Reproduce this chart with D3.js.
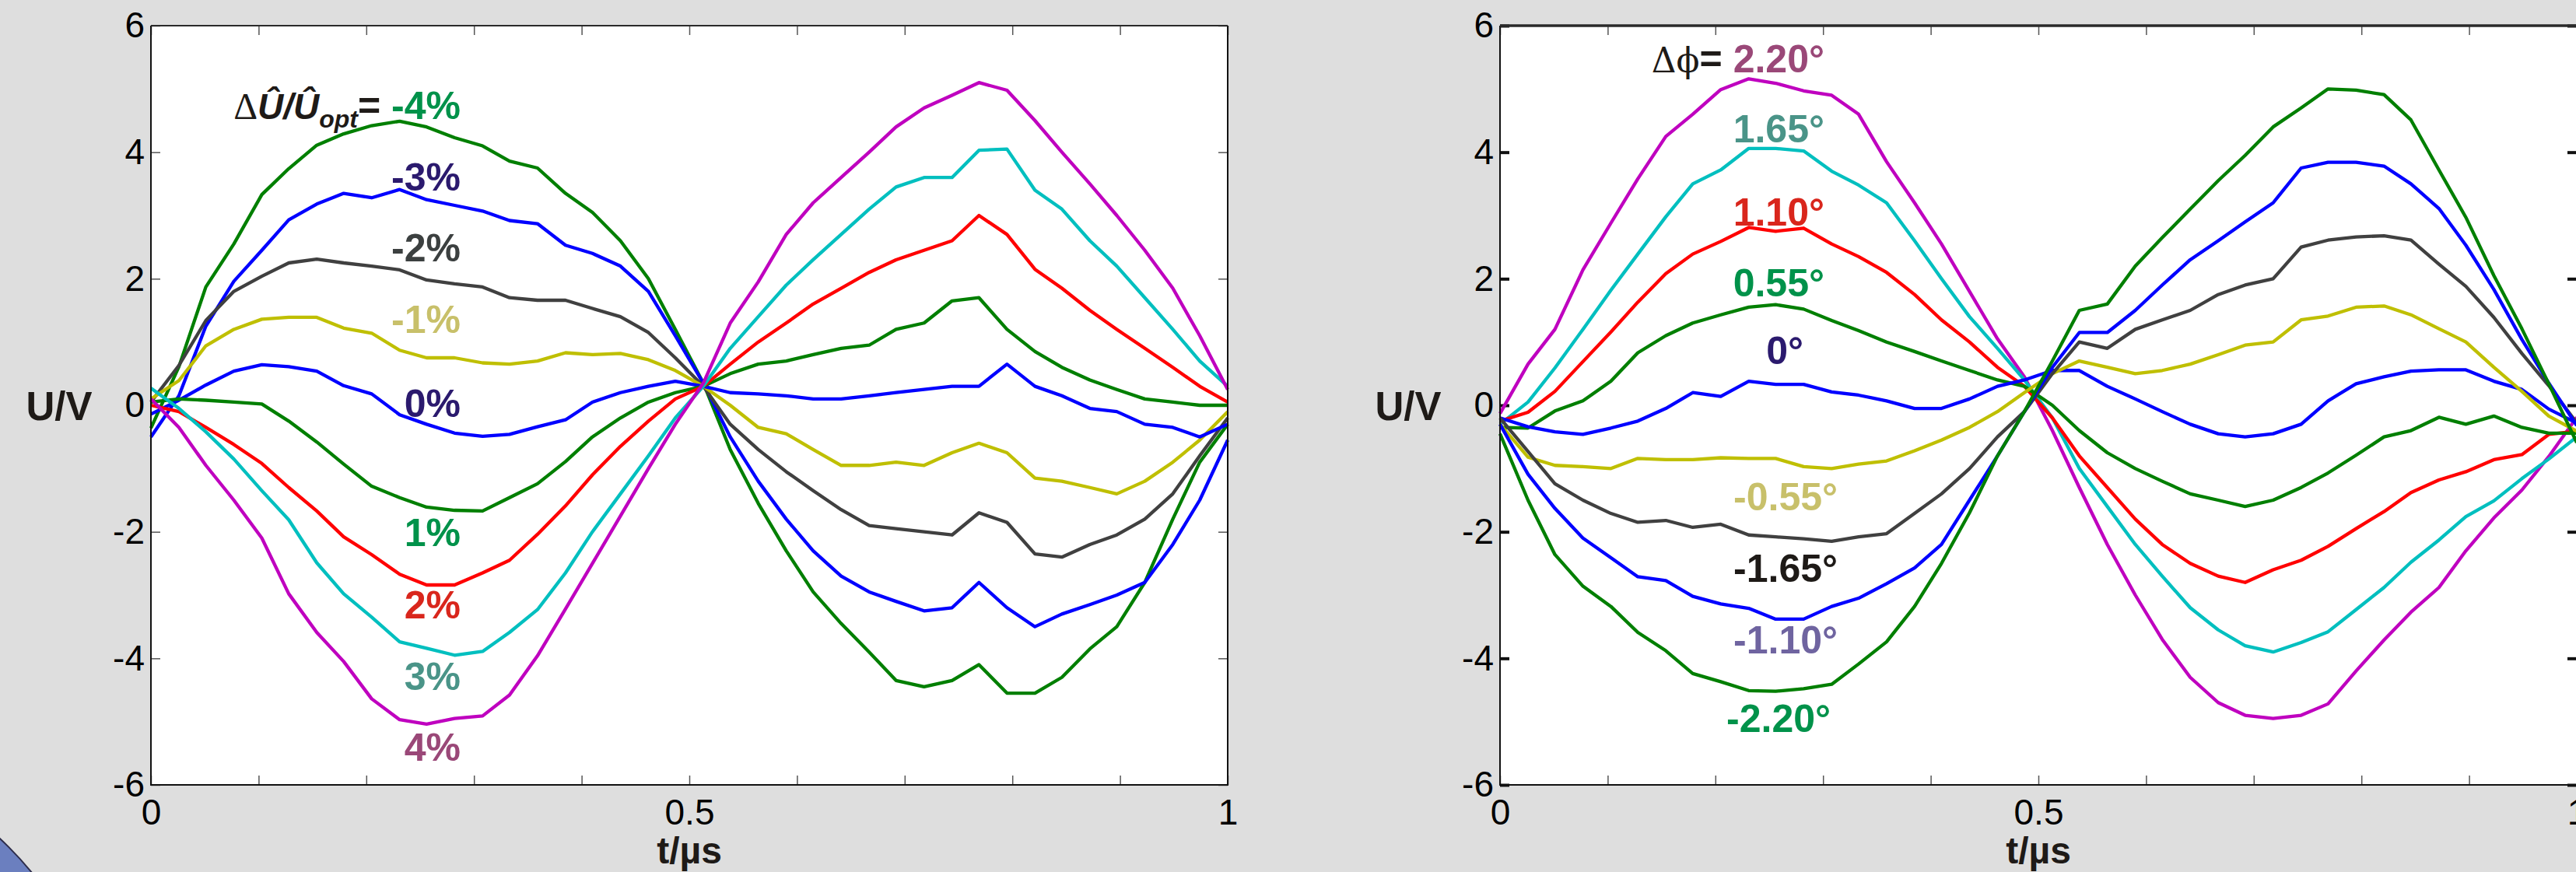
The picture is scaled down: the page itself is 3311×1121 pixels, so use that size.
<!DOCTYPE html>
<html>
<head>
<meta charset="utf-8">
<script src="https://cdn.jsdelivr.net/npm/d3@7/dist/d3.min.js"></script>
<style>
  html, body { margin: 0; padding: 0; background: #dedede; }
  svg { display: block; }
  text { font-family: "Liberation Sans", Arial, sans-serif; }
</style>
</head>
<body>
<script>
// sample instants (t / µs), 40 samples per curve
var tSamples = [0.000, 0.026, 0.051, 0.077, 0.103, 0.128, 0.154, 0.179, 0.205, 0.231,
                0.256, 0.282, 0.308, 0.333, 0.359, 0.385, 0.410, 0.436, 0.462, 0.487,
                0.513, 0.538, 0.564, 0.590, 0.615, 0.641, 0.667, 0.692, 0.718, 0.744,
                0.769, 0.795, 0.821, 0.846, 0.872, 0.897, 0.923, 0.949, 0.974, 1.000];

var yTicks = [-6, -4, -2, 0, 2, 4, 6];
var yTickLabels = ["-6", "-4", "-2", "0", "2", "4", "6"];
var xTicks = [0, 0.1, 0.2, 0.3, 0.4, 0.5, 0.6, 0.7, 0.8, 0.9, 1];
var xTickLabels = ["0", "", "", "", "", "0.5", "", "", "", "", "1"];

// left panel: amplitude deviation dU/U_opt
var ampLabels = ["-4%", "-3%", "-2%", "-1%", "0%", "1%", "2%", "3%", "4%"];
var ampM4 = [-0.36, 0.61, 1.87, 2.55, 3.33, 3.74, 4.11, 4.29, 4.42, 4.49, 4.40, 4.23, 4.10, 3.86, 3.75, 3.35, 3.05, 2.60, 2.00, 1.20,
             0.35, -0.70, -1.55, -2.30, -2.95, -3.45, -3.90, -4.35, -4.45, -4.35, -4.10, -4.55, -4.55, -4.30, -3.85, -3.50, -2.80, -1.80, -0.90, -0.30];
var ampM3 = [-0.50, 0.15, 1.25, 1.96, 2.45, 2.93, 3.18, 3.35, 3.28, 3.41, 3.25, 3.16, 3.07, 2.92, 2.87, 2.53, 2.40, 2.20, 1.80, 1.10,
             0.35, -0.50, -1.20, -1.80, -2.30, -2.70, -2.95, -3.10, -3.25, -3.20, -2.80, -3.20, -3.50, -3.30, -3.15, -3.00, -2.80, -2.20, -1.50, -0.55];
var ampM2 = [0.05, 0.63, 1.34, 1.80, 2.04, 2.25, 2.31, 2.25, 2.20, 2.14, 1.98, 1.92, 1.87, 1.70, 1.66, 1.66, 1.53, 1.40, 1.15, 0.75,
             0.30, -0.30, -0.70, -1.05, -1.35, -1.65, -1.90, -1.95, -2.00, -2.05, -1.70, -1.85, -2.35, -2.40, -2.20, -2.05, -1.80, -1.40, -0.80, -0.20];
var ampM1 = [0.10, 0.39, 0.94, 1.20, 1.36, 1.39, 1.39, 1.22, 1.14, 0.87, 0.75, 0.75, 0.67, 0.65, 0.70, 0.83, 0.80, 0.82, 0.72, 0.55,
             0.30, 0.00, -0.35, -0.45, -0.70, -0.95, -0.95, -0.90, -0.95, -0.75, -0.60, -0.75, -1.15, -1.20, -1.30, -1.40, -1.20, -0.90, -0.55, -0.10];
var amp0  = [-0.14, 0.08, 0.32, 0.54, 0.64, 0.61, 0.54, 0.31, 0.18, -0.15, -0.30, -0.44, -0.49, -0.46, -0.34, -0.23, 0.05, 0.20, 0.30, 0.38,
             0.30, 0.20, 0.18, 0.15, 0.10, 0.10, 0.15, 0.20, 0.25, 0.30, 0.30, 0.65, 0.30, 0.15, -0.05, -0.10, -0.30, -0.35, -0.50, -0.30];
var ampP1 = [0.05, 0.10, 0.08, 0.05, 0.02, -0.25, -0.58, -0.93, -1.28, -1.46, -1.61, -1.66, -1.67, -1.46, -1.24, -0.89, -0.50, -0.20, 0.05, 0.20,
             0.30, 0.50, 0.65, 0.70, 0.80, 0.90, 0.95, 1.20, 1.30, 1.65, 1.70, 1.20, 0.85, 0.60, 0.40, 0.25, 0.10, 0.05, 0.00, 0.00];
var ampP2 = [0.00, -0.10, -0.35, -0.62, -0.92, -1.30, -1.67, -2.08, -2.36, -2.67, -2.84, -2.84, -2.65, -2.45, -2.04, -1.59, -1.10, -0.65, -0.25, 0.10,
             0.30, 0.65, 1.00, 1.30, 1.60, 1.85, 2.10, 2.30, 2.45, 2.60, 3.00, 2.70, 2.15, 1.85, 1.50, 1.20, 0.90, 0.60, 0.30, 0.05];
var ampP3 = [0.27, -0.05, -0.42, -0.85, -1.35, -1.81, -2.49, -2.98, -3.35, -3.74, -3.84, -3.95, -3.89, -3.59, -3.23, -2.65, -2.00, -1.40, -0.80, -0.20,
             0.30, 0.90, 1.40, 1.90, 2.30, 2.70, 3.10, 3.45, 3.60, 3.60, 4.03, 4.05, 3.40, 3.10, 2.60, 2.20, 1.70, 1.20, 0.70, 0.30];
var ampP4 = [0.10, -0.35, -0.95, -1.50, -2.10, -2.98, -3.59, -4.05, -4.64, -4.97, -5.04, -4.95, -4.91, -4.58, -3.96, -3.22, -2.50, -1.75, -1.00, -0.30,
             0.35, 1.30, 1.95, 2.70, 3.20, 3.60, 4.00, 4.40, 4.70, 4.90, 5.10, 4.98, 4.50, 4.00, 3.50, 3.00, 2.45, 1.85, 1.10, 0.25];

// right panel: phase deviation dphi
var phLabels = ["2.20°", "1.65°", "1.10°", "0.55°", "0°", "-0.55°", "-1.65°", "-1.10°", "-2.20°"];
var phP220 = [-0.13, 0.65, 1.20, 2.14, 2.88, 3.58, 4.25, 4.60, 4.99, 5.16, 5.09, 4.97, 4.90, 4.60, 3.85, 3.20, 2.55, 1.80, 1.05, 0.45,
              -0.40, -1.30, -2.20, -3.00, -3.70, -4.30, -4.70, -4.90, -4.95, -4.90, -4.72, -4.20, -3.71, -3.27, -2.88, -2.30, -1.78, -1.34, -0.81, -0.19];
var phP165 = [-0.30, 0.05, 0.59, 1.20, 1.82, 2.39, 2.98, 3.50, 3.72, 4.06, 4.06, 4.02, 3.70, 3.48, 3.20, 2.60, 2.00, 1.40, 0.90, 0.40,
              -0.20, -1.00, -1.60, -2.20, -2.70, -3.20, -3.55, -3.80, -3.90, -3.75, -3.58, -3.23, -2.88, -2.48, -2.13, -1.76, -1.51, -1.16, -0.85, -0.50];
var phP110 = [-0.25, -0.11, 0.22, 0.69, 1.16, 1.63, 2.08, 2.39, 2.59, 2.81, 2.75, 2.80, 2.55, 2.35, 2.10, 1.75, 1.35, 1.00, 0.60, 0.30,
              -0.20, -0.80, -1.30, -1.80, -2.20, -2.50, -2.70, -2.80, -2.60, -2.45, -2.23, -1.95, -1.68, -1.38, -1.18, -1.05, -0.86, -0.78, -0.46, -0.41];
var phP055 = [-0.35, -0.36, -0.09, 0.07, 0.38, 0.83, 1.10, 1.30, 1.43, 1.55, 1.59, 1.52, 1.34, 1.18, 1.00, 0.85, 0.70, 0.55, 0.40, 0.30,
              0.00, -0.40, -0.75, -1.00, -1.20, -1.40, -1.50, -1.60, -1.50, -1.30, -1.07, -0.79, -0.50, -0.40, -0.19, -0.30, -0.17, -0.35, -0.44, -0.44];
var ph0    = [-0.20, -0.34, -0.42, -0.46, -0.36, -0.25, -0.05, 0.20, 0.14, 0.38, 0.33, 0.33, 0.21, 0.16, 0.07, -0.05, -0.05, 0.10, 0.30, 0.40,
              0.55, 0.55, 0.30, 0.10, -0.10, -0.30, -0.45, -0.50, -0.45, -0.30, 0.07, 0.34, 0.45, 0.54, 0.56, 0.56, 0.38, 0.25, -0.06, -0.28];
var phM055 = [-0.30, -0.82, -0.95, -0.97, -1.00, -0.84, -0.86, -0.86, -0.83, -0.84, -0.84, -0.97, -1.00, -0.93, -0.88, -0.72, -0.55, -0.35, -0.10, 0.20,
              0.50, 0.70, 0.60, 0.50, 0.55, 0.65, 0.80, 0.95, 1.00, 1.35, 1.41, 1.55, 1.57, 1.43, 1.21, 1.00, 0.60, 0.22, -0.17, -0.41];
var phM165 = [-0.20, -0.73, -1.24, -1.50, -1.71, -1.85, -1.82, -1.93, -1.88, -2.05, -2.08, -2.11, -2.15, -2.08, -2.03, -1.71, -1.40, -1.00, -0.50, -0.10,
              0.50, 1.00, 0.90, 1.20, 1.35, 1.50, 1.75, 1.90, 2.00, 2.50, 2.61, 2.66, 2.68, 2.61, 2.23, 1.88, 1.39, 0.82, 0.31, -0.28];
var phM110 = [-0.30, -1.09, -1.63, -2.10, -2.41, -2.71, -2.77, -3.02, -3.14, -3.21, -3.38, -3.38, -3.18, -3.05, -2.82, -2.57, -2.20, -1.50, -0.80, -0.10,
              0.60, 1.15, 1.15, 1.50, 1.90, 2.30, 2.60, 2.90, 3.20, 3.75, 3.84, 3.84, 3.78, 3.50, 3.11, 2.53, 1.83, 1.04, 0.35, -0.32];
var phM220 = [-0.45, -1.50, -2.36, -2.86, -3.18, -3.59, -3.88, -4.24, -4.37, -4.51, -4.52, -4.48, -4.41, -4.09, -3.74, -3.18, -2.50, -1.70, -0.80, -0.10,
              0.70, 1.50, 1.60, 2.20, 2.65, 3.10, 3.55, 3.95, 4.40, 4.70, 5.00, 4.98, 4.91, 4.51, 3.72, 2.97, 2.05, 1.21, 0.34, -0.59];

// ---- styles / layout ----
var width = 3311, height = 1121;
var plotW = 1384, plotTop = 33, plotBottom = 1009;

var cGreen = "#007f00", cBlue = "#0000ff", cGray = "#404040", cYellow = "#bfbf00",
    cRed = "#ff0000", cCyan = "#00bfbf", cMagenta = "#bf00bf";
var lGreen = "#00924a", lNavy = "#2b1a6e", lGray = "#3c4040", lKhaki = "#c8c06a",
    lRed = "#d9261c", lTeal = "#4a9488", lPurple = "#9a4878", lBlack = "#1e1a17", lLav = "#6f64a0";

// label anchors (right edge, baseline) in data units
var ampLabelPos = [[0.2876, 4.525], [0.2876, 3.394], [0.2876, 2.275], [0.2876, 1.143], [0.2876, -0.184],
                   [0.2876, -2.226], [0.2876, -3.369], [0.2876, -4.50], [0.2876, -5.619]];
var phLabelPos = [[0.3013, 5.263], [0.3013, 4.156], [0.3013, 2.840], [0.3013, 1.721], [0.2818, 0.652],
                  [0.3136, -1.660], [0.3136, -2.791], [0.3136, -3.922], [0.3071, -5.164]];

var leftPanel = {
  x0: 194,
  series: [ampM4, ampM3, ampM2, ampM1, amp0, ampP1, ampP2, ampP3, ampP4],
  colors: [cGreen, cBlue, cGray, cYellow, cBlue, cGreen, cRed, cCyan, cMagenta],
  labels: ampLabels,
  labelColors: [lGreen, lNavy, lGray, lKhaki, lNavy, lGreen, lRed, lTeal, lPurple],
  labelPos: ampLabelPos,
  yTickW: 1.5, yTickColor: "#555", topW: 2
};
var rightPanel = {
  x0: 1928,
  series: [phP220, phP165, phP110, phP055, ph0, phM055, phM165, phM110, phM220],
  colors: [cMagenta, cCyan, cRed, cGreen, cBlue, cYellow, cGray, cBlue, cGreen],
  labels: phLabels,
  labelColors: [lPurple, lTeal, lRed, lGreen, lNavy, lKhaki, lBlack, lLav, lGreen],
  labelPos: phLabelPos,
  yTickW: 4, yTickColor: "#111", topW: 3.5
};

var svg = d3.select("body").append("svg")
  .attr("width", width)
  .attr("height", height);

svg.append("rect").attr("width", width).attr("height", height).attr("fill", "#dedede");

// slide decoration in the lower left corner
svg.append("circle")
  .attr("cx", -300).attr("cy", 1400).attr("r", 440)
  .attr("fill", "#6b7fbf").attr("stroke", "#2c2c4a").attr("stroke-width", 2);

var y = d3.scaleLinear().domain([-6, 6]).range([plotBottom, plotTop]);

function drawPanel(p, header) {
  var x = d3.scaleLinear().domain([0, 1]).range([p.x0, p.x0 + plotW]);
  var g = svg.append("g");

  g.append("rect")
    .attr("x", p.x0).attr("y", plotTop)
    .attr("width", plotW).attr("height", plotBottom - plotTop)
    .attr("fill", "#fff");

  // ticks (inward, as in the original)
  var xb = g.append("g").attr("transform", "translate(0," + plotBottom + ")")
    .call(d3.axisBottom(x).tickValues(xTicks).tickSize(-12).tickPadding(18)
      .tickFormat(function(d, i) { return xTickLabels[i]; }));
  var xt = g.append("g").attr("transform", "translate(0," + plotTop + ")")
    .call(d3.axisTop(x).tickValues(xTicks).tickSize(-12).tickFormat(""));
  var yl = g.append("g").attr("transform", "translate(" + p.x0 + ",0)")
    .call(d3.axisLeft(y).tickValues(yTicks).tickSize(-12).tickPadding(8)
      .tickFormat(function(d, i) { return yTickLabels[i]; }));
  var yr = g.append("g").attr("transform", "translate(" + (p.x0 + plotW) + ",0)")
    .call(d3.axisRight(y).tickValues(yTicks).tickSize(-12).tickFormat(""));

  g.selectAll(".domain").remove();
  [xb, xt].forEach(function(a) {
    a.selectAll(".tick line").attr("stroke", "#555").attr("stroke-width", 1.5);
  });
  [yl, yr].forEach(function(a) {
    a.selectAll(".tick line").attr("stroke", p.yTickColor).attr("stroke-width", p.yTickW);
  });
  g.selectAll(".tick text")
    .attr("fill", "#000")
    .style("font-family", "'Liberation Sans', Arial, sans-serif")
    .style("font-size", "46px");

  // curves
  var line = d3.line()
    .x(function(d, i) { return x(tSamples[i]); })
    .y(function(d) { return y(d); });

  g.selectAll("path.curve")
    .data(p.series)
    .enter()
    .append("path")
    .attr("class", "curve")
    .attr("d", line)
    .attr("fill", "none")
    .attr("stroke", function(d, i) { return p.colors[i]; })
    .attr("stroke-width", 4.3)
    .attr("stroke-linejoin", "round");

  // frame
  g.append("path")
    .attr("d", "M" + p.x0 + "," + plotTop + "V" + plotBottom + "H" + (p.x0 + plotW) + "V" + plotTop)
    .attr("fill", "none").attr("stroke", "#111").attr("stroke-width", 2);
  g.append("line")
    .attr("x1", p.x0).attr("x2", p.x0 + plotW)
    .attr("y1", plotTop).attr("y2", plotTop)
    .attr("stroke", "#2a2a2a").attr("stroke-width", p.topW);

  // curve labels
  g.selectAll("text.lab")
    .data(p.labels)
    .enter()
    .append("text")
    .attr("class", "lab")
    .attr("x", function(d, i) { return x(p.labelPos[i][0]); })
    .attr("y", function(d, i) { return y(p.labelPos[i][1]); })
    .attr("text-anchor", "end")
    .attr("font-size", 50)
    .attr("font-weight", "bold")
    .attr("fill", function(d, i) { return p.labelColors[i]; })
    .each(function(d, i) {
      var t = d3.select(this);
      if (i === 0) header(t);
      t.append("tspan").text(d);
    });

  // axis titles
  g.append("text")
    .attr("x", p.x0 - 118).attr("y", y(0) + 19)
    .attr("text-anchor", "middle")
    .attr("font-size", 51).attr("font-weight", "bold").attr("fill", "#1e1a17")
    .text("U/V");
  g.append("text")
    .attr("x", x(0.5)).attr("y", 1110)
    .attr("text-anchor", "middle")
    .attr("font-size", 48).attr("font-weight", "bold").attr("fill", "#1e1a17")
    .text("t/µs");
}

drawPanel(leftPanel, function(t) {
  t.append("tspan").attr("fill", "#1e1a17").attr("font-weight", "normal")
    .style("font-family", "'Liberation Serif', serif").attr("font-size", 48).text("Δ");
  t.append("tspan").attr("fill", "#1e1a17").attr("font-style", "italic").attr("font-size", 46).text("Û/Û");
  t.append("tspan").attr("fill", "#1e1a17").attr("font-style", "italic").attr("font-size", 32)
    .attr("dy", 11).text("opt");
  t.append("tspan").attr("fill", "#1e1a17").attr("dy", -11).text("= ");
});

drawPanel(rightPanel, function(t) {
  t.append("tspan").attr("fill", "#1e1a17").attr("font-weight", "normal")
    .style("font-family", "'DejaVu Serif', serif").attr("font-size", 44).text("Δϕ");
  t.append("tspan").attr("fill", "#1e1a17").text("= ");
});
</script>
</body>
</html>
